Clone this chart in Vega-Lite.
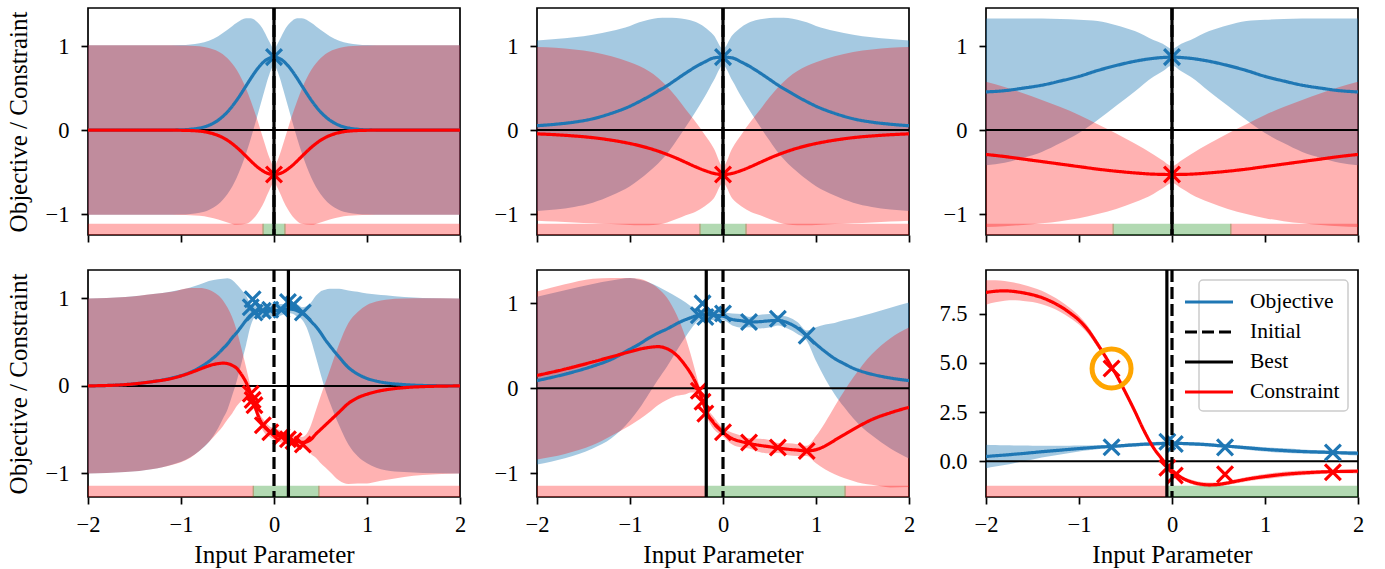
{
"$schema": "https://vega.github.io/schema/vega-lite/v6.json",
"background": "white",
"padding": {"left": 5, "top": 5, "right": 20, "bottom": 0},
"config": {
  "font": "Liberation Serif",
  "view": {"stroke": "black", "strokeWidth": 1.7},
  "axis": {"grid": false, "domain": false, "tickColor": "black", "tickWidth": 1.7, "tickSize": 7, "labelFont": "Liberation Serif", "labelFontSize": 22.5, "labelColor": "black", "titleFont": "Liberation Serif", "titleFontSize": 25, "titleFontWeight": "normal", "titleColor": "black", "labelFlush": false, "labelOverlap": false},
  "axisX": {"labelPadding": 9, "titlePadding": 7},
  "axisY": {"labelPadding": 12, "titlePadding": 14},
  "legend": {"symbolType": "M-3,0L1,0", "symbolSize": 576, "symbolStrokeWidth": 3.2, "labelFont": "Liberation Serif", "labelFontSize": 21.5, "labelColor": "black", "labelOffset": 15, "rowPadding": 5, "padding": 8, "fillColor": "rgba(255,255,255,0.8)", "strokeColor": "#cccccc", "strokeWidth": 1.5, "cornerRadius": 4, "labelLimit": 300}
},
"datasets": {
  "curves": [
    {"p":1,"x":-2,"bm":0,"bl":-1.01,"bh":1.01,"rm":0,"rl":-1.01,"rh":1.01},
    {"p":1,"x":-1.6,"bm":0,"bl":-1.01,"bh":1.01,"rm":0,"rl":-1.01,"rh":1.01},
    {"p":1,"x":-1.2,"bm":0,"bl":-1.01,"bh":1.01,"rm":0,"rl":-1.01,"rh":1.01},
    {"p":1,"x":-1.0,"bm":0.003,"bl":-1.007,"bh":1.013,"rm":-0.002,"rl":-1.012,"rh":1.008},
    {"p":1,"x":-0.9,"bm":0.01,"bl":-1.0,"bh":1.02,"rm":-0.005,"rl":-1.015,"rh":1.005},
    {"p":1,"x":-0.8,"bm":0.025,"bl":-0.985,"bh":1.035,"rm":-0.012,"rl":-1.022,"rh":0.998},
    {"p":1,"x":-0.7,"bm":0.057,"bl":-0.951,"bh":1.065,"rm":-0.03,"rl":-1.038,"rh":0.978},
    {"p":1,"x":-0.6,"bm":0.118,"bl":-0.883,"bh":1.119,"rm":-0.064,"rl":-1.065,"rh":0.937},
    {"p":1,"x":-0.5,"bm":0.217,"bl":-0.761,"bh":1.195,"rm":-0.122,"rl":-1.1,"rh":0.856},
    {"p":1,"x":-0.4,"bm":0.358,"bl":-0.564,"bh":1.28,"rm":-0.207,"rl":-1.129,"rh":0.715},
    {"p":1,"x":-0.3,"bm":0.528,"bl":-0.277,"bh":1.333,"rm":-0.312,"rl":-1.117,"rh":0.493},
    {"p":1,"x":-0.25,"bm":0.615,"bl":-0.103,"bh":1.333,"rm":-0.367,"rl":-1.085,"rh":0.351},
    {"p":1,"x":-0.2,"bm":0.697,"bl":0.087,"bh":1.307,"rm":-0.419,"rl":-1.029,"rh":0.191},
    {"p":1,"x":-0.15,"bm":0.768,"bl":0.285,"bh":1.251,"rm":-0.464,"rl":-0.947,"rh":0.019},
    {"p":1,"x":-0.1,"bm":0.823,"bl":0.482,"bh":1.164,"rm":-0.5,"rl":-0.841,"rh":-0.159},
    {"p":1,"x":-0.05,"bm":0.858,"bl":0.663,"bh":1.053,"rm":-0.522,"rl":-0.717,"rh":-0.327},
    {"p":1,"x":0,"bm":0.87,"bl":0.769,"bh":0.971,"rm":-0.53,"rl":-0.631,"rh":-0.429},
    {"p":1,"x":0.05,"bm":0.858,"bl":0.663,"bh":1.053,"rm":-0.522,"rl":-0.717,"rh":-0.327},
    {"p":1,"x":0.1,"bm":0.823,"bl":0.482,"bh":1.164,"rm":-0.5,"rl":-0.841,"rh":-0.159},
    {"p":1,"x":0.15,"bm":0.768,"bl":0.285,"bh":1.251,"rm":-0.464,"rl":-0.947,"rh":0.019},
    {"p":1,"x":0.2,"bm":0.697,"bl":0.087,"bh":1.307,"rm":-0.419,"rl":-1.029,"rh":0.191},
    {"p":1,"x":0.25,"bm":0.615,"bl":-0.103,"bh":1.333,"rm":-0.367,"rl":-1.085,"rh":0.351},
    {"p":1,"x":0.3,"bm":0.528,"bl":-0.277,"bh":1.333,"rm":-0.312,"rl":-1.117,"rh":0.493},
    {"p":1,"x":0.4,"bm":0.358,"bl":-0.564,"bh":1.28,"rm":-0.207,"rl":-1.129,"rh":0.715},
    {"p":1,"x":0.5,"bm":0.217,"bl":-0.761,"bh":1.195,"rm":-0.122,"rl":-1.1,"rh":0.856},
    {"p":1,"x":0.6,"bm":0.118,"bl":-0.883,"bh":1.119,"rm":-0.064,"rl":-1.065,"rh":0.937},
    {"p":1,"x":0.7,"bm":0.057,"bl":-0.951,"bh":1.065,"rm":-0.03,"rl":-1.038,"rh":0.978},
    {"p":1,"x":0.8,"bm":0.025,"bl":-0.985,"bh":1.035,"rm":-0.012,"rl":-1.022,"rh":0.998},
    {"p":1,"x":0.9,"bm":0.01,"bl":-1.0,"bh":1.02,"rm":-0.005,"rl":-1.015,"rh":1.005},
    {"p":1,"x":1.0,"bm":0.003,"bl":-1.007,"bh":1.013,"rm":-0.002,"rl":-1.012,"rh":1.008},
    {"p":1,"x":1.2,"bm":0,"bl":-1.01,"bh":1.01,"rm":0,"rl":-1.01,"rh":1.01},
    {"p":1,"x":1.6,"bm":0,"bl":-1.01,"bh":1.01,"rm":0,"rl":-1.01,"rh":1.01},
    {"p":1,"x":2,"bm":0,"bl":-1.01,"bh":1.01,"rm":0,"rl":-1.01,"rh":1.01},

    {"p":2,"x":-2,"bm":0.052,"bl":-0.963,"bh":1.067,"rm":-0.045,"rl":-1.08,"rh":0.99},
    {"p":2,"x":-1.8,"bm":0.07,"bl":-0.945,"bh":1.085,"rm":-0.055,"rl":-1.09,"rh":0.98},
    {"p":2,"x":-1.6,"bm":0.095,"bl":-0.915,"bh":1.105,"rm":-0.07,"rl":-1.1,"rh":0.96},
    {"p":2,"x":-1.4,"bm":0.135,"bl":-0.865,"bh":1.135,"rm":-0.09,"rl":-1.11,"rh":0.93},
    {"p":2,"x":-1.2,"bm":0.2,"bl":-0.78,"bh":1.18,"rm":-0.12,"rl":-1.12,"rh":0.88},
    {"p":2,"x":-1.0,"bm":0.285,"bl":-0.67,"bh":1.24,"rm":-0.16,"rl":-1.13,"rh":0.81},
    {"p":2,"x":-0.9,"bm":0.34,"bl":-0.59,"bh":1.285,"rm":-0.185,"rl":-1.135,"rh":0.765},
    {"p":2,"x":-0.8,"bm":0.4,"bl":-0.5,"bh":1.315,"rm":-0.215,"rl":-1.135,"rh":0.705},
    {"p":2,"x":-0.7,"bm":0.465,"bl":-0.4,"bh":1.335,"rm":-0.25,"rl":-1.125,"rh":0.625},
    {"p":2,"x":-0.6,"bm":0.53,"bl":-0.28,"bh":1.34,"rm":-0.29,"rl":-1.1,"rh":0.52},
    {"p":2,"x":-0.5,"bm":0.605,"bl":-0.125,"bh":1.335,"rm":-0.335,"rl":-1.06,"rh":0.39},
    {"p":2,"x":-0.4,"bm":0.68,"bl":0.04,"bh":1.32,"rm":-0.385,"rl":-1.015,"rh":0.245},
    {"p":2,"x":-0.3,"bm":0.75,"bl":0.21,"bh":1.29,"rm":-0.435,"rl":-0.975,"rh":0.105},
    {"p":2,"x":-0.2,"bm":0.81,"bl":0.39,"bh":1.23,"rm":-0.48,"rl":-0.91,"rh":-0.05},
    {"p":2,"x":-0.1,"bm":0.86,"bl":0.59,"bh":1.13,"rm":-0.515,"rl":-0.815,"rh":-0.215},
    {"p":2,"x":0,"bm":0.87,"bl":0.77,"bh":0.97,"rm":-0.53,"rl":-0.63,"rh":-0.43},
    {"p":2,"x":0.1,"bm":0.86,"bl":0.59,"bh":1.13,"rm":-0.515,"rl":-0.815,"rh":-0.215},
    {"p":2,"x":0.2,"bm":0.81,"bl":0.39,"bh":1.23,"rm":-0.48,"rl":-0.91,"rh":-0.05},
    {"p":2,"x":0.3,"bm":0.75,"bl":0.21,"bh":1.29,"rm":-0.435,"rl":-0.975,"rh":0.105},
    {"p":2,"x":0.4,"bm":0.68,"bl":0.04,"bh":1.32,"rm":-0.385,"rl":-1.015,"rh":0.245},
    {"p":2,"x":0.5,"bm":0.605,"bl":-0.125,"bh":1.335,"rm":-0.335,"rl":-1.06,"rh":0.39},
    {"p":2,"x":0.6,"bm":0.53,"bl":-0.28,"bh":1.34,"rm":-0.29,"rl":-1.1,"rh":0.52},
    {"p":2,"x":0.7,"bm":0.465,"bl":-0.4,"bh":1.335,"rm":-0.25,"rl":-1.125,"rh":0.625},
    {"p":2,"x":0.8,"bm":0.4,"bl":-0.5,"bh":1.315,"rm":-0.215,"rl":-1.135,"rh":0.705},
    {"p":2,"x":0.9,"bm":0.34,"bl":-0.59,"bh":1.285,"rm":-0.185,"rl":-1.135,"rh":0.765},
    {"p":2,"x":1.0,"bm":0.285,"bl":-0.67,"bh":1.24,"rm":-0.16,"rl":-1.13,"rh":0.81},
    {"p":2,"x":1.2,"bm":0.2,"bl":-0.78,"bh":1.18,"rm":-0.12,"rl":-1.12,"rh":0.88},
    {"p":2,"x":1.4,"bm":0.135,"bl":-0.865,"bh":1.135,"rm":-0.09,"rl":-1.11,"rh":0.93},
    {"p":2,"x":1.6,"bm":0.095,"bl":-0.915,"bh":1.105,"rm":-0.07,"rl":-1.1,"rh":0.96},
    {"p":2,"x":1.8,"bm":0.07,"bl":-0.945,"bh":1.085,"rm":-0.055,"rl":-1.09,"rh":0.98},
    {"p":2,"x":2,"bm":0.052,"bl":-0.963,"bh":1.067,"rm":-0.045,"rl":-1.08,"rh":0.99},

    {"p":3,"x":-2,"bm":0.455,"bl":-0.42,"bh":1.33,"rm":-0.29,"rl":-1.155,"rh":0.575},
    {"p":3,"x":-1.8,"bm":0.47,"bl":-0.39,"bh":1.33,"rm":-0.315,"rl":-1.145,"rh":0.515},
    {"p":3,"x":-1.6,"bm":0.5,"bl":-0.33,"bh":1.33,"rm":-0.345,"rl":-1.13,"rh":0.44},
    {"p":3,"x":-1.4,"bm":0.535,"bl":-0.26,"bh":1.33,"rm":-0.375,"rl":-1.11,"rh":0.36},
    {"p":3,"x":-1.2,"bm":0.585,"bl":-0.155,"bh":1.325,"rm":-0.405,"rl":-1.085,"rh":0.275},
    {"p":3,"x":-1.0,"bm":0.64,"bl":-0.035,"bh":1.315,"rm":-0.435,"rl":-1.05,"rh":0.18},
    {"p":3,"x":-0.8,"bm":0.71,"bl":0.12,"bh":1.3,"rm":-0.465,"rl":-1.0,"rh":0.07},
    {"p":3,"x":-0.6,"bm":0.77,"bl":0.29,"bh":1.25,"rm":-0.49,"rl":-0.94,"rh":-0.04},
    {"p":3,"x":-0.4,"bm":0.82,"bl":0.46,"bh":1.18,"rm":-0.51,"rl":-0.86,"rh":-0.16},
    {"p":3,"x":-0.2,"bm":0.855,"bl":0.635,"bh":1.075,"rm":-0.525,"rl":-0.76,"rh":-0.29},
    {"p":3,"x":-0.1,"bm":0.865,"bl":0.7,"bh":1.03,"rm":-0.528,"rl":-0.693,"rh":-0.363},
    {"p":3,"x":0,"bm":0.87,"bl":0.77,"bh":0.97,"rm":-0.53,"rl":-0.63,"rh":-0.43},
    {"p":3,"x":0.1,"bm":0.865,"bl":0.7,"bh":1.03,"rm":-0.528,"rl":-0.693,"rh":-0.363},
    {"p":3,"x":0.2,"bm":0.855,"bl":0.635,"bh":1.075,"rm":-0.525,"rl":-0.76,"rh":-0.29},
    {"p":3,"x":0.4,"bm":0.82,"bl":0.46,"bh":1.18,"rm":-0.51,"rl":-0.86,"rh":-0.16},
    {"p":3,"x":0.6,"bm":0.77,"bl":0.29,"bh":1.25,"rm":-0.49,"rl":-0.94,"rh":-0.04},
    {"p":3,"x":0.8,"bm":0.71,"bl":0.12,"bh":1.3,"rm":-0.465,"rl":-1.0,"rh":0.07},
    {"p":3,"x":1.0,"bm":0.64,"bl":-0.035,"bh":1.315,"rm":-0.435,"rl":-1.05,"rh":0.18},
    {"p":3,"x":1.2,"bm":0.585,"bl":-0.155,"bh":1.325,"rm":-0.405,"rl":-1.085,"rh":0.275},
    {"p":3,"x":1.4,"bm":0.535,"bl":-0.26,"bh":1.33,"rm":-0.375,"rl":-1.11,"rh":0.36},
    {"p":3,"x":1.6,"bm":0.5,"bl":-0.33,"bh":1.33,"rm":-0.345,"rl":-1.13,"rh":0.44},
    {"p":3,"x":1.8,"bm":0.47,"bl":-0.39,"bh":1.33,"rm":-0.315,"rl":-1.145,"rh":0.515},
    {"p":3,"x":2,"bm":0.455,"bl":-0.42,"bh":1.33,"rm":-0.29,"rl":-1.155,"rh":0.575},

    {"p":4,"x":-2,"bm":0,"bl":-1.0,"bh":1.0,"rm":0,"rl":-1.0,"rh":1.0},
    {"p":4,"x":-1.6,"bm":0.015,"bl":-0.985,"bh":1.015,"rm":0.015,"rl":-0.985,"rh":1.015},
    {"p":4,"x":-1.3,"bm":0.05,"bl":-0.95,"bh":1.05,"rm":0.05,"rl":-0.95,"rh":1.05},
    {"p":4,"x":-1.1,"bm":0.09,"bl":-0.9,"bh":1.08,"rm":0.085,"rl":-0.905,"rh":1.075},
    {"p":4,"x":-0.9,"bm":0.155,"bl":-0.815,"bh":1.125,"rm":0.15,"rl":-0.82,"rh":1.12},
    {"p":4,"x":-0.8,"bm":0.21,"bl":-0.74,"bh":1.16,"rm":0.19,"rl":-0.74,"rh":1.12},
    {"p":4,"x":-0.7,"bm":0.28,"bl":-0.64,"bh":1.2,"rm":0.23,"rl":-0.64,"rh":1.1},
    {"p":4,"x":-0.6,"bm":0.37,"bl":-0.48,"bh":1.22,"rm":0.255,"rl":-0.525,"rh":1.035},
    {"p":4,"x":-0.55,"bm":0.425,"bl":-0.375,"bh":1.225,"rm":0.26,"rl":-0.46,"rh":0.98},
    {"p":4,"x":-0.5,"bm":0.48,"bl":-0.27,"bh":1.23,"rm":0.255,"rl":-0.385,"rh":0.895},
    {"p":4,"x":-0.45,"bm":0.55,"bl":-0.11,"bh":1.21,"rm":0.235,"rl":-0.315,"rh":0.785},
    {"p":4,"x":-0.4,"bm":0.61,"bl":0.06,"bh":1.16,"rm":0.2,"rl":-0.23,"rh":0.63},
    {"p":4,"x":-0.35,"bm":0.68,"bl":0.26,"bh":1.1,"rm":0.13,"rl":-0.17,"rh":0.43},
    {"p":4,"x":-0.3,"bm":0.75,"bl":0.47,"bh":1.03,"rm":0.04,"rl":-0.13,"rh":0.21},
    {"p":4,"x":-0.25,"bm":0.81,"bl":0.69,"bh":0.93,"rm":-0.09,"rl":-0.17,"rh":-0.01},
    {"p":4,"x":-0.2,"bm":0.85,"bl":0.79,"bh":0.91,"rm":-0.25,"rl":-0.31,"rh":-0.19},
    {"p":4,"x":-0.15,"bm":0.86,"bl":0.8,"bh":0.92,"rm":-0.39,"rl":-0.45,"rh":-0.33},
    {"p":4,"x":-0.1,"bm":0.86,"bl":0.79,"bh":0.93,"rm":-0.47,"rl":-0.54,"rh":-0.4},
    {"p":4,"x":-0.05,"bm":0.86,"bl":0.8,"bh":0.92,"rm":-0.52,"rl":-0.58,"rh":-0.46},
    {"p":4,"x":0,"bm":0.86,"bl":0.79,"bh":0.93,"rm":-0.55,"rl":-0.62,"rh":-0.48},
    {"p":4,"x":0.05,"bm":0.865,"bl":0.795,"bh":0.935,"rm":-0.57,"rl":-0.64,"rh":-0.5},
    {"p":4,"x":0.1,"bm":0.875,"bl":0.815,"bh":0.935,"rm":-0.59,"rl":-0.65,"rh":-0.53},
    {"p":4,"x":0.15,"bm":0.88,"bl":0.83,"bh":0.93,"rm":-0.61,"rl":-0.66,"rh":-0.56},
    {"p":4,"x":0.2,"bm":0.875,"bl":0.825,"bh":0.925,"rm":-0.625,"rl":-0.675,"rh":-0.575},
    {"p":4,"x":0.25,"bm":0.86,"bl":0.79,"bh":0.93,"rm":-0.635,"rl":-0.705,"rh":-0.565},
    {"p":4,"x":0.3,"bm":0.83,"bl":0.76,"bh":0.9,"rm":-0.645,"rl":-0.705,"rh":-0.585},
    {"p":4,"x":0.35,"bm":0.79,"bl":0.67,"bh":0.91,"rm":-0.64,"rl":-0.73,"rh":-0.55},
    {"p":4,"x":0.4,"bm":0.735,"bl":0.515,"bh":0.955,"rm":-0.61,"rl":-0.78,"rh":-0.44},
    {"p":4,"x":0.45,"bm":0.68,"bl":0.33,"bh":1.03,"rm":-0.55,"rl":-0.82,"rh":-0.28},
    {"p":4,"x":0.5,"bm":0.61,"bl":0.14,"bh":1.08,"rm":-0.5,"rl":-0.88,"rh":-0.12},
    {"p":4,"x":0.55,"bm":0.53,"bl":-0.04,"bh":1.1,"rm":-0.45,"rl":-0.93,"rh":0.03},
    {"p":4,"x":0.6,"bm":0.46,"bl":-0.19,"bh":1.11,"rm":-0.4,"rl":-0.98,"rh":0.18},
    {"p":4,"x":0.7,"bm":0.33,"bl":-0.45,"bh":1.11,"rm":-0.3,"rl":-1.08,"rh":0.48},
    {"p":4,"x":0.8,"bm":0.21,"bl":-0.67,"bh":1.09,"rm":-0.2,"rl":-1.12,"rh":0.72},
    {"p":4,"x":0.9,"bm":0.135,"bl":-0.805,"bh":1.075,"rm":-0.135,"rl":-1.115,"rh":0.845},
    {"p":4,"x":1.0,"bm":0.085,"bl":-0.885,"bh":1.055,"rm":-0.095,"rl":-1.115,"rh":0.925},
    {"p":4,"x":1.1,"bm":0.055,"bl":-0.935,"bh":1.045,"rm":-0.065,"rl":-1.095,"rh":0.965},
    {"p":4,"x":1.2,"bm":0.035,"bl":-0.965,"bh":1.035,"rm":-0.045,"rl":-1.075,"rh":0.985},
    {"p":4,"x":1.4,"bm":0.015,"bl":-0.985,"bh":1.015,"rm":-0.02,"rl":-1.04,"rh":1.0},
    {"p":4,"x":1.6,"bm":0.005,"bl":-0.995,"bh":1.005,"rm":-0.008,"rl":-1.018,"rh":1.002},
    {"p":4,"x":2,"bm":0,"bl":-1.0,"bh":1.0,"rm":0,"rl":-1.0,"rh":1.0},

    {"p":5,"x":-2,"bm":0.09,"bl":-0.9,"bh":1.08,"rm":0.15,"rl":-0.84,"rh":1.14},
    {"p":5,"x":-1.7,"bm":0.165,"bl":-0.825,"bh":1.155,"rm":0.225,"rl":-0.775,"rh":1.225},
    {"p":5,"x":-1.4,"bm":0.26,"bl":-0.71,"bh":1.23,"rm":0.31,"rl":-0.67,"rh":1.29},
    {"p":5,"x":-1.2,"bm":0.34,"bl":-0.59,"bh":1.27,"rm":0.37,"rl":-0.56,"rh":1.3},
    {"p":5,"x":-1.0,"bm":0.46,"bl":-0.38,"bh":1.3,"rm":0.43,"rl":-0.44,"rh":1.3},
    {"p":5,"x":-0.9,"bm":0.52,"bl":-0.24,"bh":1.28,"rm":0.46,"rl":-0.37,"rh":1.29},
    {"p":5,"x":-0.8,"bm":0.59,"bl":-0.07,"bh":1.25,"rm":0.48,"rl":-0.29,"rh":1.25},
    {"p":5,"x":-0.7,"bm":0.65,"bl":0.1,"bh":1.2,"rm":0.49,"rl":-0.2,"rh":1.18},
    {"p":5,"x":-0.6,"bm":0.7,"bl":0.26,"bh":1.14,"rm":0.465,"rl":-0.135,"rh":1.065},
    {"p":5,"x":-0.5,"bm":0.76,"bl":0.44,"bh":1.08,"rm":0.39,"rl":-0.09,"rh":0.87},
    {"p":5,"x":-0.4,"bm":0.81,"bl":0.61,"bh":1.01,"rm":0.26,"rl":-0.07,"rh":0.59},
    {"p":5,"x":-0.35,"bm":0.83,"bl":0.69,"bh":0.97,"rm":0.18,"rl":-0.05,"rh":0.41},
    {"p":5,"x":-0.3,"bm":0.85,"bl":0.76,"bh":0.94,"rm":0.08,"rl":-0.05,"rh":0.21},
    {"p":5,"x":-0.26,"bm":0.86,"bl":0.8,"bh":0.92,"rm":-0.02,"rl":-0.09,"rh":0.05},
    {"p":5,"x":-0.22,"bm":0.865,"bl":0.815,"bh":0.915,"rm":-0.15,"rl":-0.21,"rh":-0.09},
    {"p":5,"x":-0.18,"bm":0.865,"bl":0.815,"bh":0.915,"rm":-0.27,"rl":-0.33,"rh":-0.21},
    {"p":5,"x":-0.1,"bm":0.86,"bl":0.8,"bh":0.92,"rm":-0.41,"rl":-0.48,"rh":-0.34},
    {"p":5,"x":0,"bm":0.85,"bl":0.8,"bh":0.9,"rm":-0.52,"rl":-0.57,"rh":-0.47},
    {"p":5,"x":0.1,"bm":0.81,"bl":0.74,"bh":0.88,"rm":-0.595,"rl":-0.665,"rh":-0.525},
    {"p":5,"x":0.2,"bm":0.795,"bl":0.715,"bh":0.875,"rm":-0.63,"rl":-0.7,"rh":-0.56},
    {"p":5,"x":0.28,"bm":0.78,"bl":0.72,"bh":0.84,"rm":-0.65,"rl":-0.71,"rh":-0.59},
    {"p":5,"x":0.4,"bm":0.785,"bl":0.705,"bh":0.865,"rm":-0.675,"rl":-0.755,"rh":-0.595},
    {"p":5,"x":0.5,"bm":0.795,"bl":0.715,"bh":0.875,"rm":-0.69,"rl":-0.77,"rh":-0.61},
    {"p":5,"x":0.59,"bm":0.8,"bl":0.74,"bh":0.86,"rm":-0.705,"rl":-0.765,"rh":-0.645},
    {"p":5,"x":0.7,"bm":0.77,"bl":0.7,"bh":0.84,"rm":-0.72,"rl":-0.79,"rh":-0.65},
    {"p":5,"x":0.8,"bm":0.71,"bl":0.64,"bh":0.78,"rm":-0.73,"rl":-0.8,"rh":-0.66},
    {"p":5,"x":0.9,"bm":0.62,"bl":0.56,"bh":0.68,"rm":-0.74,"rl":-0.8,"rh":-0.68},
    {"p":5,"x":1.0,"bm":0.52,"bl":0.32,"bh":0.72,"rm":-0.725,"rl":-0.885,"rh":-0.565},
    {"p":5,"x":1.1,"bm":0.43,"bl":0.11,"bh":0.75,"rm":-0.68,"rl":-0.96,"rh":-0.4},
    {"p":5,"x":1.2,"bm":0.35,"bl":-0.07,"bh":0.77,"rm":-0.615,"rl":-1.015,"rh":-0.215},
    {"p":5,"x":1.3,"bm":0.29,"bl":-0.22,"bh":0.8,"rm":-0.55,"rl":-1.06,"rh":-0.04},
    {"p":5,"x":1.4,"bm":0.235,"bl":-0.355,"bh":0.825,"rm":-0.485,"rl":-1.095,"rh":0.125},
    {"p":5,"x":1.5,"bm":0.195,"bl":-0.465,"bh":0.855,"rm":-0.425,"rl":-1.125,"rh":0.275},
    {"p":5,"x":1.6,"bm":0.165,"bl":-0.555,"bh":0.885,"rm":-0.37,"rl":-1.14,"rh":0.4},
    {"p":5,"x":1.8,"bm":0.12,"bl":-0.71,"bh":0.95,"rm":-0.29,"rl":-1.17,"rh":0.59},
    {"p":5,"x":2,"bm":0.09,"bl":-0.83,"bh":1.01,"rm":-0.225,"rl":-1.165,"rh":0.715},

    {"p":6,"x":-2,"bm":0.25,"bl":-0.35,"bh":0.85,"rm":8.58,"rl":7.96,"rh":9.2},
    {"p":6,"x":-1.9,"bm":0.285,"bl":-0.265,"bh":0.835,"rm":8.64,"rl":8.08,"rh":9.2},
    {"p":6,"x":-1.8,"bm":0.32,"bl":-0.18,"bh":0.82,"rm":8.66,"rl":8.16,"rh":9.16},
    {"p":6,"x":-1.7,"bm":0.36,"bl":-0.09,"bh":0.81,"rm":8.63,"rl":8.18,"rh":9.08},
    {"p":6,"x":-1.6,"bm":0.4,"bl":0.0,"bh":0.8,"rm":8.56,"rl":8.15,"rh":8.97},
    {"p":6,"x":-1.5,"bm":0.445,"bl":0.095,"bh":0.795,"rm":8.46,"rl":8.09,"rh":8.83},
    {"p":6,"x":-1.4,"bm":0.49,"bl":0.19,"bh":0.79,"rm":8.32,"rl":7.98,"rh":8.66},
    {"p":6,"x":-1.3,"bm":0.53,"bl":0.27,"bh":0.79,"rm":8.12,"rl":7.81,"rh":8.43},
    {"p":6,"x":-1.2,"bm":0.57,"bl":0.35,"bh":0.79,"rm":7.87,"rl":7.59,"rh":8.15},
    {"p":6,"x":-1.1,"bm":0.61,"bl":0.425,"bh":0.795,"rm":7.55,"rl":7.3,"rh":7.8},
    {"p":6,"x":-1.0,"bm":0.65,"bl":0.5,"bh":0.8,"rm":7.17,"rl":6.95,"rh":7.39},
    {"p":6,"x":-0.9,"bm":0.685,"bl":0.56,"bh":0.81,"rm":6.65,"rl":6.46,"rh":6.84},
    {"p":6,"x":-0.8,"bm":0.72,"bl":0.62,"bh":0.82,"rm":5.95,"rl":5.79,"rh":6.11},
    {"p":6,"x":-0.7,"bm":0.745,"bl":0.66,"bh":0.83,"rm":5.2,"rl":5.08,"rh":5.32},
    {"p":6,"x":-0.65,"bm":0.76,"bl":0.68,"bh":0.84,"rm":4.8,"rl":4.7,"rh":4.9},
    {"p":6,"x":-0.6,"bm":0.775,"bl":0.693,"bh":0.857,"rm":4.4,"rl":4.29,"rh":4.51},
    {"p":6,"x":-0.5,"bm":0.81,"bl":0.72,"bh":0.9,"rm":3.5,"rl":3.37,"rh":3.63},
    {"p":6,"x":-0.4,"bm":0.84,"bl":0.75,"bh":0.93,"rm":2.55,"rl":2.42,"rh":2.68},
    {"p":6,"x":-0.3,"bm":0.87,"bl":0.78,"bh":0.96,"rm":1.55,"rl":1.43,"rh":1.67},
    {"p":6,"x":-0.2,"bm":0.89,"bl":0.805,"bh":0.975,"rm":0.7,"rl":0.6,"rh":0.8},
    {"p":6,"x":-0.1,"bm":0.91,"bl":0.83,"bh":0.99,"rm":0.08,"rl":0.0,"rh":0.16},
    {"p":6,"x":-0.05,"bm":0.915,"bl":0.84,"bh":0.99,"rm":-0.2,"rl":-0.27,"rh":-0.13},
    {"p":6,"x":0,"bm":0.92,"bl":0.85,"bh":0.99,"rm":-0.45,"rl":-0.52,"rh":-0.38},
    {"p":6,"x":0.1,"bm":0.91,"bl":0.835,"bh":0.985,"rm":-0.82,"rl":-0.91,"rh":-0.73},
    {"p":6,"x":0.2,"bm":0.89,"bl":0.805,"bh":0.975,"rm":-1.03,"rl":-1.14,"rh":-0.92},
    {"p":6,"x":0.3,"bm":0.87,"bl":0.78,"bh":0.96,"rm":-1.15,"rl":-1.27,"rh":-1.03},
    {"p":6,"x":0.4,"bm":0.84,"bl":0.75,"bh":0.93,"rm":-1.19,"rl":-1.31,"rh":-1.07},
    {"p":6,"x":0.5,"bm":0.8,"bl":0.715,"bh":0.885,"rm":-1.17,"rl":-1.28,"rh":-1.06},
    {"p":6,"x":0.57,"bm":0.78,"bl":0.7,"bh":0.86,"rm":-1.12,"rl":-1.22,"rh":-1.02},
    {"p":6,"x":0.7,"bm":0.73,"bl":0.64,"bh":0.82,"rm":-1.0,"rl":-1.11,"rh":-0.89},
    {"p":6,"x":0.85,"bm":0.67,"bl":0.57,"bh":0.77,"rm":-0.87,"rl":-0.99,"rh":-0.75},
    {"p":6,"x":1.0,"bm":0.61,"bl":0.5,"bh":0.72,"rm":-0.77,"rl":-0.9,"rh":-0.64},
    {"p":6,"x":1.2,"bm":0.55,"bl":0.44,"bh":0.66,"rm":-0.66,"rl":-0.79,"rh":-0.53},
    {"p":6,"x":1.4,"bm":0.5,"bl":0.4,"bh":0.6,"rm":-0.59,"rl":-0.71,"rh":-0.47},
    {"p":6,"x":1.6,"bm":0.47,"bl":0.38,"bh":0.56,"rm":-0.54,"rl":-0.64,"rh":-0.44},
    {"p":6,"x":1.73,"bm":0.45,"bl":0.37,"bh":0.53,"rm":-0.52,"rl":-0.6,"rh":-0.44},
    {"p":6,"x":1.85,"bm":0.43,"bl":0.34,"bh":0.52,"rm":-0.51,"rl":-0.6,"rh":-0.42},
    {"p":6,"x":2,"bm":0.41,"bl":0.3,"bh":0.52,"rm":-0.5,"rl":-0.61,"rh":-0.39}
  ],
  "pts": [
    {"p":1,"x":0,"y":0.87,"s":"o"},{"p":1,"x":0,"y":-0.53,"s":"c"},
    {"p":2,"x":0,"y":0.87,"s":"o"},{"p":2,"x":0,"y":-0.53,"s":"c"},
    {"p":3,"x":0,"y":0.87,"s":"o"},{"p":3,"x":0,"y":-0.53,"s":"c"},
    {"p":4,"x":-0.25,"y":0.9,"s":"o"},{"p":4,"x":-0.23,"y":0.99,"s":"o"},{"p":4,"x":-0.21,"y":0.84,"s":"o"},{"p":4,"x":-0.12,"y":0.86,"s":"o"},{"p":4,"x":-0.04,"y":0.87,"s":"o"},{"p":4,"x":0.08,"y":0.87,"s":"o"},{"p":4,"x":0.15,"y":0.96,"s":"o"},{"p":4,"x":0.21,"y":0.93,"s":"o"},{"p":4,"x":0.31,"y":0.84,"s":"o"},
    {"p":4,"x":-0.25,"y":-0.09,"s":"c"},{"p":4,"x":-0.23,"y":-0.16,"s":"c"},{"p":4,"x":-0.21,"y":-0.22,"s":"c"},{"p":4,"x":-0.12,"y":-0.45,"s":"c"},{"p":4,"x":-0.04,"y":-0.53,"s":"c"},{"p":4,"x":0.08,"y":-0.58,"s":"c"},{"p":4,"x":0.15,"y":-0.61,"s":"c"},{"p":4,"x":0.21,"y":-0.63,"s":"c"},{"p":4,"x":0.31,"y":-0.67,"s":"c"},
    {"p":5,"x":-0.26,"y":0.86,"s":"o"},{"p":5,"x":-0.22,"y":1.0,"s":"o"},{"p":5,"x":-0.19,"y":0.84,"s":"o"},{"p":5,"x":-0.1,"y":0.87,"s":"o"},{"p":5,"x":0,"y":0.88,"s":"o"},{"p":5,"x":0.28,"y":0.78,"s":"o"},{"p":5,"x":0.59,"y":0.82,"s":"o"},{"p":5,"x":0.9,"y":0.62,"s":"o"},
    {"p":5,"x":-0.26,"y":-0.03,"s":"c"},{"p":5,"x":-0.22,"y":-0.16,"s":"c"},{"p":5,"x":-0.19,"y":-0.3,"s":"c"},{"p":5,"x":0,"y":-0.52,"s":"c"},{"p":5,"x":0.28,"y":-0.64,"s":"c"},{"p":5,"x":0.59,"y":-0.7,"s":"c"},{"p":5,"x":0.9,"y":-0.74,"s":"c"},
    {"p":6,"x":-0.65,"y":0.72,"s":"o"},{"p":6,"x":-0.05,"y":1.0,"s":"o"},{"p":6,"x":0.03,"y":0.88,"s":"o"},{"p":6,"x":0.57,"y":0.71,"s":"o"},{"p":6,"x":1.73,"y":0.45,"s":"o"},
    {"p":6,"x":-0.65,"y":4.72,"s":"c"},{"p":6,"x":-0.05,"y":-0.32,"s":"c"},{"p":6,"x":0.03,"y":-0.72,"s":"c"},{"p":6,"x":0.57,"y":-0.66,"s":"c"},{"p":6,"x":1.73,"y":-0.55,"s":"c"}
  ],
  "vlines": [
    {"p":1,"s":"Initial","x":0},{"p":1,"s":"Best","x":0},
    {"p":2,"s":"Initial","x":0},{"p":2,"s":"Best","x":0},
    {"p":3,"s":"Initial","x":0},{"p":3,"s":"Best","x":0},
    {"p":4,"s":"Initial","x":0},{"p":4,"s":"Best","x":0.155},
    {"p":5,"s":"Initial","x":0},{"p":5,"s":"Best","x":-0.18},
    {"p":6,"s":"Initial","x":0},{"p":6,"s":"Best","x":-0.055}
  ],
  "strips": [
    {"p":1,"x0":-2,"x1":-0.11,"safe":false},{"p":1,"x0":-0.125,"x1":0.125,"safe":true},{"p":1,"x0":0.11,"x1":2,"safe":false},
    {"p":2,"x0":-2,"x1":-0.24,"safe":false},{"p":2,"x0":-0.255,"x1":0.255,"safe":true},{"p":2,"x0":0.24,"x1":2,"safe":false},
    {"p":3,"x0":-2,"x1":-0.625,"safe":false},{"p":3,"x0":-0.64,"x1":0.64,"safe":true},{"p":3,"x0":0.625,"x1":2,"safe":false},
    {"p":4,"x0":-2,"x1":-0.215,"safe":false},{"p":4,"x0":-0.23,"x1":0.49,"safe":true},{"p":4,"x0":0.475,"x1":2,"safe":false},
    {"p":5,"x0":-2,"x1":-0.18,"safe":false},{"p":5,"x0":-0.195,"x1":1.32,"safe":true},{"p":5,"x0":1.305,"x1":2,"safe":false},
    {"p":6,"x0":-2,"x1":-0.05,"safe":false},{"p":6,"x0":-0.05,"x1":2,"safe":true}
  ],
  "hl": [{"p":6,"x":-0.65,"y":4.72}]
},
"resolve": {"scale": {"color": "independent", "strokeDash": "independent"}},
"columns": 3,
"spacing": {"row": 35, "column": 77},
"bounds": "flush",
"concat": [
 {"width": 372, "height": 227, "layer": [
  {"data":{"name":"curves"},"transform":[{"filter":"datum.p==1"}],"mark":{"type":"area","color":"#1f77b4","opacity":0.4,"interpolate":"monotone","clip":true},
   "encoding":{"x":{"field":"x","type":"quantitative","scale":{"domain":[-2,2],"nice":false,"zero":false},"axis":{"values":[-2,-1,0,1,2],"labels":false,"title":null}},
     "y":{"field":"bl","type":"quantitative","scale":{"domain":[-1.25,1.455],"nice":false,"zero":false},"axis":{"values":[-1,0,1],"format":"d","title":"Objective / Constraint"}},"y2":{"field":"bh"}}},
  {"data":{"name":"curves"},"transform":[{"filter":"datum.p==1"}],"mark":{"type":"area","color":"red","opacity":0.3,"interpolate":"monotone","clip":true},
   "encoding":{"x":{"field":"x","type":"quantitative"},"y":{"field":"rl","type":"quantitative"},"y2":{"field":"rh"}}},
  {"data":{"name":"strips"},"transform":[{"filter":"datum.p==1 && !datum.safe"}],"mark":{"type":"rect","color":"red","opacity":0.3,"clip":true},
   "encoding":{"x":{"field":"x0","type":"quantitative"},"x2":{"field":"x1"},"y":{"datum":-1.25},"y2":{"datum":-1.115}}},
  {"data":{"name":"strips"},"transform":[{"filter":"datum.p==1 && datum.safe"}],"mark":{"type":"rect","color":"green","opacity":0.3,"clip":true},
   "encoding":{"x":{"field":"x0","type":"quantitative"},"x2":{"field":"x1"},"y":{"datum":-1.25},"y2":{"datum":-1.115}}},
  {"data":{"values":[{}]},"mark":{"type":"rule","color":"black","strokeWidth":2},"encoding":{"y":{"datum":0}}},
  {"data":{"name":"curves"},"transform":[{"filter":"datum.p==1"}],"mark":{"type":"line","strokeWidth":3.2,"interpolate":"monotone","clip":true},
   "encoding":{"x":{"field":"x","type":"quantitative"},"y":{"field":"bm","type":"quantitative"},
     "color":{"datum":"Objective","scale":{"domain":["Objective","Initial","Best","Constraint"],"range":["#1f77b4","black","black","red"]},"legend":null},
     "strokeDash":{"datum":"Objective","scale":{"domain":["Objective","Initial","Best","Constraint"],"range":[[1,0],[12,5],[1,0],[1,0]]},"legend":null}}},
  {"data":{"name":"curves"},"transform":[{"filter":"datum.p==1"}],"mark":{"type":"line","strokeWidth":3.2,"interpolate":"monotone","clip":true},
   "encoding":{"x":{"field":"x","type":"quantitative"},"y":{"field":"rm","type":"quantitative"},
     "color":{"datum":"Constraint","legend":null},"strokeDash":{"datum":"Constraint","legend":null}}},
  {"data":{"name":"pts"},"transform":[{"filter":"datum.p==1 && datum.s=='o'"}],"mark":{"type":"point","shape":"M-1,-1L1,1M-1,1L1,-1","size":250,"strokeWidth":3.2,"filled":false,"color":"#1f77b4","opacity":1},
   "encoding":{"x":{"field":"x","type":"quantitative"},"y":{"field":"y","type":"quantitative"}}},
  {"data":{"name":"pts"},"transform":[{"filter":"datum.p==1 && datum.s=='c'"}],"mark":{"type":"point","shape":"M-1,-1L1,1M-1,1L1,-1","size":250,"strokeWidth":3.2,"filled":false,"color":"red","opacity":1},
   "encoding":{"x":{"field":"x","type":"quantitative"},"y":{"field":"y","type":"quantitative"}}},
  {"data":{"name":"vlines"},"transform":[{"filter":"datum.p==1"}],"mark":{"type":"rule","strokeWidth":3.2},
   "encoding":{"x":{"field":"x","type":"quantitative"},"color":{"field":"s","type":"nominal","legend":null},"strokeDash":{"field":"s","type":"nominal","legend":null}}}
 ]},
 {"width": 372, "height": 227, "layer": [
  {"data":{"name":"curves"},"transform":[{"filter":"datum.p==2"}],"mark":{"type":"area","color":"#1f77b4","opacity":0.4,"interpolate":"monotone","clip":true},
   "encoding":{"x":{"field":"x","type":"quantitative","scale":{"domain":[-2,2],"nice":false,"zero":false},"axis":{"values":[-2,-1,0,1,2],"labels":false,"title":null}},
     "y":{"field":"bl","type":"quantitative","scale":{"domain":[-1.25,1.455],"nice":false,"zero":false},"axis":{"values":[-1,0,1],"format":"d","title":null}},"y2":{"field":"bh"}}},
  {"data":{"name":"curves"},"transform":[{"filter":"datum.p==2"}],"mark":{"type":"area","color":"red","opacity":0.3,"interpolate":"monotone","clip":true},
   "encoding":{"x":{"field":"x","type":"quantitative"},"y":{"field":"rl","type":"quantitative"},"y2":{"field":"rh"}}},
  {"data":{"name":"strips"},"transform":[{"filter":"datum.p==2 && !datum.safe"}],"mark":{"type":"rect","color":"red","opacity":0.3,"clip":true},
   "encoding":{"x":{"field":"x0","type":"quantitative"},"x2":{"field":"x1"},"y":{"datum":-1.25},"y2":{"datum":-1.115}}},
  {"data":{"name":"strips"},"transform":[{"filter":"datum.p==2 && datum.safe"}],"mark":{"type":"rect","color":"green","opacity":0.3,"clip":true},
   "encoding":{"x":{"field":"x0","type":"quantitative"},"x2":{"field":"x1"},"y":{"datum":-1.25},"y2":{"datum":-1.115}}},
  {"data":{"values":[{}]},"mark":{"type":"rule","color":"black","strokeWidth":2},"encoding":{"y":{"datum":0}}},
  {"data":{"name":"curves"},"transform":[{"filter":"datum.p==2"}],"mark":{"type":"line","strokeWidth":3.2,"interpolate":"monotone","clip":true},
   "encoding":{"x":{"field":"x","type":"quantitative"},"y":{"field":"bm","type":"quantitative"},
     "color":{"datum":"Objective","scale":{"domain":["Objective","Initial","Best","Constraint"],"range":["#1f77b4","black","black","red"]},"legend":null},
     "strokeDash":{"datum":"Objective","scale":{"domain":["Objective","Initial","Best","Constraint"],"range":[[1,0],[12,5],[1,0],[1,0]]},"legend":null}}},
  {"data":{"name":"curves"},"transform":[{"filter":"datum.p==2"}],"mark":{"type":"line","strokeWidth":3.2,"interpolate":"monotone","clip":true},
   "encoding":{"x":{"field":"x","type":"quantitative"},"y":{"field":"rm","type":"quantitative"},
     "color":{"datum":"Constraint","legend":null},"strokeDash":{"datum":"Constraint","legend":null}}},
  {"data":{"name":"pts"},"transform":[{"filter":"datum.p==2 && datum.s=='o'"}],"mark":{"type":"point","shape":"M-1,-1L1,1M-1,1L1,-1","size":250,"strokeWidth":3.2,"filled":false,"color":"#1f77b4","opacity":1},
   "encoding":{"x":{"field":"x","type":"quantitative"},"y":{"field":"y","type":"quantitative"}}},
  {"data":{"name":"pts"},"transform":[{"filter":"datum.p==2 && datum.s=='c'"}],"mark":{"type":"point","shape":"M-1,-1L1,1M-1,1L1,-1","size":250,"strokeWidth":3.2,"filled":false,"color":"red","opacity":1},
   "encoding":{"x":{"field":"x","type":"quantitative"},"y":{"field":"y","type":"quantitative"}}},
  {"data":{"name":"vlines"},"transform":[{"filter":"datum.p==2"}],"mark":{"type":"rule","strokeWidth":3.2},
   "encoding":{"x":{"field":"x","type":"quantitative"},"color":{"field":"s","type":"nominal","legend":null},"strokeDash":{"field":"s","type":"nominal","legend":null}}}
 ]},
 {"width": 372, "height": 227, "layer": [
  {"data":{"name":"curves"},"transform":[{"filter":"datum.p==3"}],"mark":{"type":"area","color":"#1f77b4","opacity":0.4,"interpolate":"monotone","clip":true},
   "encoding":{"x":{"field":"x","type":"quantitative","scale":{"domain":[-2,2],"nice":false,"zero":false},"axis":{"values":[-2,-1,0,1,2],"labels":false,"title":null}},
     "y":{"field":"bl","type":"quantitative","scale":{"domain":[-1.25,1.455],"nice":false,"zero":false},"axis":{"values":[-1,0,1],"format":"d","title":null}},"y2":{"field":"bh"}}},
  {"data":{"name":"curves"},"transform":[{"filter":"datum.p==3"}],"mark":{"type":"area","color":"red","opacity":0.3,"interpolate":"monotone","clip":true},
   "encoding":{"x":{"field":"x","type":"quantitative"},"y":{"field":"rl","type":"quantitative"},"y2":{"field":"rh"}}},
  {"data":{"name":"strips"},"transform":[{"filter":"datum.p==3 && !datum.safe"}],"mark":{"type":"rect","color":"red","opacity":0.3,"clip":true},
   "encoding":{"x":{"field":"x0","type":"quantitative"},"x2":{"field":"x1"},"y":{"datum":-1.25},"y2":{"datum":-1.115}}},
  {"data":{"name":"strips"},"transform":[{"filter":"datum.p==3 && datum.safe"}],"mark":{"type":"rect","color":"green","opacity":0.3,"clip":true},
   "encoding":{"x":{"field":"x0","type":"quantitative"},"x2":{"field":"x1"},"y":{"datum":-1.25},"y2":{"datum":-1.115}}},
  {"data":{"values":[{}]},"mark":{"type":"rule","color":"black","strokeWidth":2},"encoding":{"y":{"datum":0}}},
  {"data":{"name":"curves"},"transform":[{"filter":"datum.p==3"}],"mark":{"type":"line","strokeWidth":3.2,"interpolate":"monotone","clip":true},
   "encoding":{"x":{"field":"x","type":"quantitative"},"y":{"field":"bm","type":"quantitative"},
     "color":{"datum":"Objective","scale":{"domain":["Objective","Initial","Best","Constraint"],"range":["#1f77b4","black","black","red"]},"legend":null},
     "strokeDash":{"datum":"Objective","scale":{"domain":["Objective","Initial","Best","Constraint"],"range":[[1,0],[12,5],[1,0],[1,0]]},"legend":null}}},
  {"data":{"name":"curves"},"transform":[{"filter":"datum.p==3"}],"mark":{"type":"line","strokeWidth":3.2,"interpolate":"monotone","clip":true},
   "encoding":{"x":{"field":"x","type":"quantitative"},"y":{"field":"rm","type":"quantitative"},
     "color":{"datum":"Constraint","legend":null},"strokeDash":{"datum":"Constraint","legend":null}}},
  {"data":{"name":"pts"},"transform":[{"filter":"datum.p==3 && datum.s=='o'"}],"mark":{"type":"point","shape":"M-1,-1L1,1M-1,1L1,-1","size":250,"strokeWidth":3.2,"filled":false,"color":"#1f77b4","opacity":1},
   "encoding":{"x":{"field":"x","type":"quantitative"},"y":{"field":"y","type":"quantitative"}}},
  {"data":{"name":"pts"},"transform":[{"filter":"datum.p==3 && datum.s=='c'"}],"mark":{"type":"point","shape":"M-1,-1L1,1M-1,1L1,-1","size":250,"strokeWidth":3.2,"filled":false,"color":"red","opacity":1},
   "encoding":{"x":{"field":"x","type":"quantitative"},"y":{"field":"y","type":"quantitative"}}},
  {"data":{"name":"vlines"},"transform":[{"filter":"datum.p==3"}],"mark":{"type":"rule","strokeWidth":3.2},
   "encoding":{"x":{"field":"x","type":"quantitative"},"color":{"field":"s","type":"nominal","legend":null},"strokeDash":{"field":"s","type":"nominal","legend":null}}}
 ]},
 {"width": 372, "height": 227, "layer": [
  {"data":{"name":"curves"},"transform":[{"filter":"datum.p==4"}],"mark":{"type":"area","color":"#1f77b4","opacity":0.4,"interpolate":"monotone","clip":true},
   "encoding":{"x":{"field":"x","type":"quantitative","scale":{"domain":[-2,2],"nice":false,"zero":false},"axis":{"values":[-2,-1,0,1,2],"format":"d","title":"Input Parameter"}},
     "y":{"field":"bl","type":"quantitative","scale":{"domain":[-1.27,1.325],"nice":false,"zero":false},"axis":{"values":[-1,0,1],"format":"d","title":"Objective / Constraint"}},"y2":{"field":"bh"}}},
  {"data":{"name":"curves"},"transform":[{"filter":"datum.p==4"}],"mark":{"type":"area","color":"red","opacity":0.3,"interpolate":"monotone","clip":true},
   "encoding":{"x":{"field":"x","type":"quantitative"},"y":{"field":"rl","type":"quantitative"},"y2":{"field":"rh"}}},
  {"data":{"name":"strips"},"transform":[{"filter":"datum.p==4 && !datum.safe"}],"mark":{"type":"rect","color":"red","opacity":0.3,"clip":true},
   "encoding":{"x":{"field":"x0","type":"quantitative"},"x2":{"field":"x1"},"y":{"datum":-1.27},"y2":{"datum":-1.14}}},
  {"data":{"name":"strips"},"transform":[{"filter":"datum.p==4 && datum.safe"}],"mark":{"type":"rect","color":"green","opacity":0.3,"clip":true},
   "encoding":{"x":{"field":"x0","type":"quantitative"},"x2":{"field":"x1"},"y":{"datum":-1.27},"y2":{"datum":-1.14}}},
  {"data":{"values":[{}]},"mark":{"type":"rule","color":"black","strokeWidth":2},"encoding":{"y":{"datum":0}}},
  {"data":{"name":"curves"},"transform":[{"filter":"datum.p==4"}],"mark":{"type":"line","strokeWidth":3.2,"interpolate":"monotone","clip":true},
   "encoding":{"x":{"field":"x","type":"quantitative"},"y":{"field":"bm","type":"quantitative"},
     "color":{"datum":"Objective","scale":{"domain":["Objective","Initial","Best","Constraint"],"range":["#1f77b4","black","black","red"]},"legend":null},
     "strokeDash":{"datum":"Objective","scale":{"domain":["Objective","Initial","Best","Constraint"],"range":[[1,0],[12,5],[1,0],[1,0]]},"legend":null}}},
  {"data":{"name":"curves"},"transform":[{"filter":"datum.p==4"}],"mark":{"type":"line","strokeWidth":3.2,"interpolate":"monotone","clip":true},
   "encoding":{"x":{"field":"x","type":"quantitative"},"y":{"field":"rm","type":"quantitative"},
     "color":{"datum":"Constraint","legend":null},"strokeDash":{"datum":"Constraint","legend":null}}},
  {"data":{"name":"pts"},"transform":[{"filter":"datum.p==4 && datum.s=='o'"}],"mark":{"type":"point","shape":"M-1,-1L1,1M-1,1L1,-1","size":250,"strokeWidth":3.2,"filled":false,"color":"#1f77b4","opacity":1},
   "encoding":{"x":{"field":"x","type":"quantitative"},"y":{"field":"y","type":"quantitative"}}},
  {"data":{"name":"pts"},"transform":[{"filter":"datum.p==4 && datum.s=='c'"}],"mark":{"type":"point","shape":"M-1,-1L1,1M-1,1L1,-1","size":250,"strokeWidth":3.2,"filled":false,"color":"red","opacity":1},
   "encoding":{"x":{"field":"x","type":"quantitative"},"y":{"field":"y","type":"quantitative"}}},
  {"data":{"name":"vlines"},"transform":[{"filter":"datum.p==4"}],"mark":{"type":"rule","strokeWidth":3.2},
   "encoding":{"x":{"field":"x","type":"quantitative"},"color":{"field":"s","type":"nominal","legend":null},"strokeDash":{"field":"s","type":"nominal","legend":null}}}
 ]},
 {"width": 372, "height": 227, "layer": [
  {"data":{"name":"curves"},"transform":[{"filter":"datum.p==5"}],"mark":{"type":"area","color":"#1f77b4","opacity":0.4,"interpolate":"monotone","clip":true},
   "encoding":{"x":{"field":"x","type":"quantitative","scale":{"domain":[-2,2],"nice":false,"zero":false},"axis":{"values":[-2,-1,0,1,2],"format":"d","title":"Input Parameter"}},
     "y":{"field":"bl","type":"quantitative","scale":{"domain":[-1.283,1.394],"nice":false,"zero":false},"axis":{"values":[-1,0,1],"format":"d","title":null}},"y2":{"field":"bh"}}},
  {"data":{"name":"curves"},"transform":[{"filter":"datum.p==5"}],"mark":{"type":"area","color":"red","opacity":0.3,"interpolate":"monotone","clip":true},
   "encoding":{"x":{"field":"x","type":"quantitative"},"y":{"field":"rl","type":"quantitative"},"y2":{"field":"rh"}}},
  {"data":{"name":"strips"},"transform":[{"filter":"datum.p==5 && !datum.safe"}],"mark":{"type":"rect","color":"red","opacity":0.3,"clip":true},
   "encoding":{"x":{"field":"x0","type":"quantitative"},"x2":{"field":"x1"},"y":{"datum":-1.283},"y2":{"datum":-1.149}}},
  {"data":{"name":"strips"},"transform":[{"filter":"datum.p==5 && datum.safe"}],"mark":{"type":"rect","color":"green","opacity":0.3,"clip":true},
   "encoding":{"x":{"field":"x0","type":"quantitative"},"x2":{"field":"x1"},"y":{"datum":-1.283},"y2":{"datum":-1.149}}},
  {"data":{"values":[{}]},"mark":{"type":"rule","color":"black","strokeWidth":2},"encoding":{"y":{"datum":0}}},
  {"data":{"name":"curves"},"transform":[{"filter":"datum.p==5"}],"mark":{"type":"line","strokeWidth":3.2,"interpolate":"monotone","clip":true},
   "encoding":{"x":{"field":"x","type":"quantitative"},"y":{"field":"bm","type":"quantitative"},
     "color":{"datum":"Objective","scale":{"domain":["Objective","Initial","Best","Constraint"],"range":["#1f77b4","black","black","red"]},"legend":null},
     "strokeDash":{"datum":"Objective","scale":{"domain":["Objective","Initial","Best","Constraint"],"range":[[1,0],[12,5],[1,0],[1,0]]},"legend":null}}},
  {"data":{"name":"curves"},"transform":[{"filter":"datum.p==5"}],"mark":{"type":"line","strokeWidth":3.2,"interpolate":"monotone","clip":true},
   "encoding":{"x":{"field":"x","type":"quantitative"},"y":{"field":"rm","type":"quantitative"},
     "color":{"datum":"Constraint","legend":null},"strokeDash":{"datum":"Constraint","legend":null}}},
  {"data":{"name":"pts"},"transform":[{"filter":"datum.p==5 && datum.s=='o'"}],"mark":{"type":"point","shape":"M-1,-1L1,1M-1,1L1,-1","size":250,"strokeWidth":3.2,"filled":false,"color":"#1f77b4","opacity":1},
   "encoding":{"x":{"field":"x","type":"quantitative"},"y":{"field":"y","type":"quantitative"}}},
  {"data":{"name":"pts"},"transform":[{"filter":"datum.p==5 && datum.s=='c'"}],"mark":{"type":"point","shape":"M-1,-1L1,1M-1,1L1,-1","size":250,"strokeWidth":3.2,"filled":false,"color":"red","opacity":1},
   "encoding":{"x":{"field":"x","type":"quantitative"},"y":{"field":"y","type":"quantitative"}}},
  {"data":{"name":"vlines"},"transform":[{"filter":"datum.p==5"}],"mark":{"type":"rule","strokeWidth":3.2},
   "encoding":{"x":{"field":"x","type":"quantitative"},"color":{"field":"s","type":"nominal","legend":null},"strokeDash":{"field":"s","type":"nominal","legend":null}}}
 ]},
 {"width": 372, "height": 227, "layer": [
  {"data":{"name":"curves"},"transform":[{"filter":"datum.p==6"}],"mark":{"type":"area","color":"#1f77b4","opacity":0.4,"interpolate":"monotone","clip":true},
   "encoding":{"x":{"field":"x","type":"quantitative","scale":{"domain":[-2,2],"nice":false,"zero":false},"axis":{"values":[-2,-1,0,1,2],"format":"d","title":"Input Parameter"}},
     "y":{"field":"bl","type":"quantitative","scale":{"domain":[-1.81,9.72],"nice":false,"zero":false},"axis":{"values":[0,2.5,5,7.5],"format":".1f","title":null}},"y2":{"field":"bh"}}},
  {"data":{"name":"curves"},"transform":[{"filter":"datum.p==6"}],"mark":{"type":"area","color":"red","opacity":0.3,"interpolate":"monotone","clip":true},
   "encoding":{"x":{"field":"x","type":"quantitative"},"y":{"field":"rl","type":"quantitative"},"y2":{"field":"rh"}}},
  {"data":{"name":"strips"},"transform":[{"filter":"datum.p==6 && !datum.safe"}],"mark":{"type":"rect","color":"red","opacity":0.3,"clip":true},
   "encoding":{"x":{"field":"x0","type":"quantitative"},"x2":{"field":"x1"},"y":{"datum":-1.81},"y2":{"datum":-1.233}}},
  {"data":{"name":"strips"},"transform":[{"filter":"datum.p==6 && datum.safe"}],"mark":{"type":"rect","color":"green","opacity":0.3,"clip":true},
   "encoding":{"x":{"field":"x0","type":"quantitative"},"x2":{"field":"x1"},"y":{"datum":-1.81},"y2":{"datum":-1.233}}},
  {"data":{"values":[{}]},"mark":{"type":"rule","color":"black","strokeWidth":2},"encoding":{"y":{"datum":0}}},
  {"data":{"name":"curves"},"transform":[{"filter":"datum.p==6"}],"mark":{"type":"line","strokeWidth":3.2,"interpolate":"monotone","clip":true},
   "encoding":{"x":{"field":"x","type":"quantitative"},"y":{"field":"bm","type":"quantitative"},
     "color":{"datum":"Objective","title":null,"scale":{"domain":["Objective","Initial","Best","Constraint"],"range":["#1f77b4","black","black","red"]},"legend":{"orient":"top-right","offset":10,"title":null}},
     "strokeDash":{"datum":"Objective","title":null,"scale":{"domain":["Objective","Initial","Best","Constraint"],"range":[[1,0],[12,5],[1,0],[1,0]]},"legend":{"orient":"top-right","offset":10,"title":null}}}},
  {"data":{"name":"curves"},"transform":[{"filter":"datum.p==6"}],"mark":{"type":"line","strokeWidth":3.2,"interpolate":"monotone","clip":true},
   "encoding":{"x":{"field":"x","type":"quantitative"},"y":{"field":"rm","type":"quantitative"},
     "color":{"datum":"Constraint","title":null},"strokeDash":{"datum":"Constraint","title":null}}},
  {"data":{"name":"hl"},"mark":{"type":"point","shape":"circle","size":1520,"strokeWidth":5,"filled":false,"color":"orange","opacity":1},
   "encoding":{"x":{"field":"x","type":"quantitative"},"y":{"field":"y","type":"quantitative"}}},
  {"data":{"name":"pts"},"transform":[{"filter":"datum.p==6 && datum.s=='o'"}],"mark":{"type":"point","shape":"M-1,-1L1,1M-1,1L1,-1","size":250,"strokeWidth":3.2,"filled":false,"color":"#1f77b4","opacity":1},
   "encoding":{"x":{"field":"x","type":"quantitative"},"y":{"field":"y","type":"quantitative"}}},
  {"data":{"name":"pts"},"transform":[{"filter":"datum.p==6 && datum.s=='c'"}],"mark":{"type":"point","shape":"M-1,-1L1,1M-1,1L1,-1","size":250,"strokeWidth":3.2,"filled":false,"color":"red","opacity":1},
   "encoding":{"x":{"field":"x","type":"quantitative"},"y":{"field":"y","type":"quantitative"}}},
  {"data":{"name":"vlines"},"transform":[{"filter":"datum.p==6"}],"mark":{"type":"rule","strokeWidth":3.2},
   "encoding":{"x":{"field":"x","type":"quantitative"},"color":{"field":"s","type":"nominal","title":null},"strokeDash":{"field":"s","type":"nominal","title":null}}}
 ]}
]
}
